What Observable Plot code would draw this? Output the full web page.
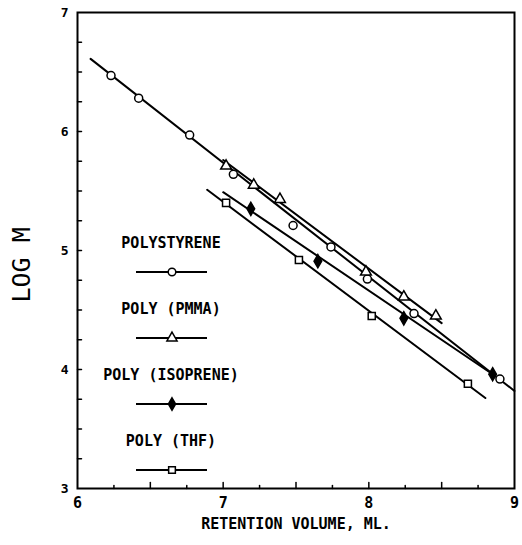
<!DOCTYPE html>
<html><head><meta charset="utf-8">
<script src="https://cdn.jsdelivr.net/npm/d3@7"></script>
<script src="https://cdn.jsdelivr.net/npm/@observablehq/plot@0.6"></script>
<style>
body{margin:0;background:#fff;}
#wrap{position:relative;width:522px;height:545px;overflow:hidden;}
#legend{position:absolute;left:96px;top:232px;width:150px;font-family:"DejaVu Sans Mono",monospace;font-weight:bold;font-size:15px;color:#000;}
#legend .item{height:66px;}
#legend .lab{height:22px;line-height:22px;text-align:center;white-space:nowrap;}
#legend svg{display:block;}
</style></head><body><div id="wrap"><div id="legend"></div></div>
<script>
// Polystyrene (open circles)
const psX = [6.23, 6.42, 6.77, 7.07, 7.48, 7.74, 7.99, 8.31, 8.90];
const psY = [6.47, 6.28, 5.97, 5.64, 5.21, 5.03, 4.76, 4.47, 3.92];
const psLineX = [6.09, 9.0];
const psLineY = [6.61, 3.82];
// Poly(PMMA) (open triangles)
const pmX = [7.02, 7.21, 7.39, 7.98, 8.24, 8.46];
const pmY = [5.71, 5.55, 5.43, 4.82, 4.61, 4.45];
const pmLineX = [7.0, 8.50];
const pmLineY = [5.76, 4.39];
// Poly(isoprene) (filled diamonds)
const ipX = [7.19, 7.65, 8.24, 8.85];
const ipY = [5.35, 4.91, 4.43, 3.96];
const ipLineX = [7.0, 8.85];
const ipLineY = [5.49, 3.96];
// Poly(THF) (open squares)
const thX = [7.02, 7.52, 8.02, 8.68];
const thY = [5.40, 4.92, 4.45, 3.88];
const thLineX = [6.89, 8.80];
const thLineY = [5.51, 3.76];

const seriesNames = ["POLYSTYRENE", "POLY (PMMA)", "POLY (ISOPRENE)", "POLY (THF)"];
const seriesSymbols = ["circle", "triangle", "diamond", "square"];
const seriesFill = ["white", "white", "black", "white"];

const xLabelTicks = [6, 7, 8, 9];
const yLabelTicks = [3, 4, 5, 6, 7];
const xMajorTicks = [6.5, 7, 7.5, 8, 8.5];
const xMinorTicks = [6.25, 6.75, 7.25, 7.75, 8.25, 8.75];
const yMinorTicks = [3.25, 3.5, 3.75, 4, 4.25, 4.5, 4.75, 5, 5.25, 5.5, 5.75, 6, 6.25, 6.5, 6.75];

const pts = (xs, ys, s) => xs.map((x, i) => ({x, y: ys[i], s}));
const points = [
  ...pts(psX, psY, 0), ...pts(pmX, pmY, 1), ...pts(ipX, ipY, 2), ...pts(thX, thY, 3)
];
const lines = [
  ...pts(psLineX, psLineY, 0), ...pts(pmLineX, pmLineY, 1),
  ...pts(ipLineX, ipLineY, 2), ...pts(thLineX, thLineY, 3)
];

const tickShape = {draw(context, l) { context.moveTo(0, 0); context.lineTo(0, -l); }};

const font = '"DejaVu Sans Mono", monospace';
const chart = Plot.plot({
  width: 522, height: 545,
  marginLeft: 77, marginRight: 8, marginTop: 12, marginBottom: 57,
  style: {fontFamily: font, background: "white", color: "black"},
  x: {domain: [6, 9]},
  y: {domain: [3, 7]},
  symbol: {domain: [0,1,2,3], range: seriesSymbols},
  marks: [
    Plot.axisX({ticks: xLabelTicks, tickSize: 0, tickPadding: 9, fontSize: 15, fontWeight: "bold",
      tickFormat: d => String(d), label: "RETENTION VOLUME, ML.", labelAnchor: "center", labelArrow: "none", labelOffset: 40}),
    Plot.axisY({ticks: yLabelTicks, tickSize: 0, tickPadding: 9, fontSize: 13, fontWeight: "bold",
      tickFormat: d => String(d), label: null}),
    Plot.vector(xMajorTicks, {x: d => d, frameAnchor: "bottom", length: 6, rotate: 0, anchor: "start", shape: tickShape, stroke: "black", strokeWidth: 1.5}),
    Plot.vector(xMinorTicks, {x: d => d, frameAnchor: "bottom", length: 3, rotate: 0, anchor: "start", shape: tickShape, stroke: "black", strokeWidth: 1.5}),
    Plot.vector(yMinorTicks, {y: d => d, frameAnchor: "left", length: 4, rotate: 90, anchor: "start", shape: tickShape, stroke: "black", strokeWidth: 1.5}),
    Plot.text(["LOG M"], {frameAnchor: "left", dx: -56, dy: 52, rotate: -90, fontSize: 25, fontFamily: font, fill: "black"}),
    Plot.frame({stroke: "black", strokeWidth: 2}),
    Plot.line(lines, {x: "x", y: "y", z: "s", stroke: "black", strokeWidth: 2}),
    Plot.dot(points, {x: "x", y: "y", symbol: "s", r: 4, stroke: "black", strokeWidth: 1.5,
      fill: d => seriesFill[d.s]})
  ]
});
chart.style.position = "absolute";
chart.style.left = "0px";
chart.style.top = "0px";
const wrap = document.getElementById("wrap");
wrap.insertBefore(chart, wrap.firstChild);
chart.querySelectorAll("[aria-label='x-axis label']").forEach(e => {e.setAttribute("font-size", "15"); e.setAttribute("font-weight", "bold");});

// Legend
const legend = d3.select("#legend");
const sym = d3.symbol().size(45);
const d3syms = [d3.symbolCircle, d3.symbolTriangle, d3.symbolDiamond, d3.symbolSquare];
seriesNames.forEach((name, i) => {
  const item = legend.append("div").attr("class", "item");
  item.append("div").attr("class", "lab").text(name);
  const svg = item.append("svg").attr("width", 150).attr("height", 36);
  svg.append("line").attr("x1", 40).attr("x2", 111).attr("y1", 18).attr("y2", 18).attr("stroke", "black").attr("stroke-width", 2);
  svg.append("path").attr("d", sym.type(d3syms[i])()).attr("transform", "translate(76,18)")
    .attr("fill", seriesFill[i]).attr("stroke", "black").attr("stroke-width", 1.5);
});
</script></body></html>
